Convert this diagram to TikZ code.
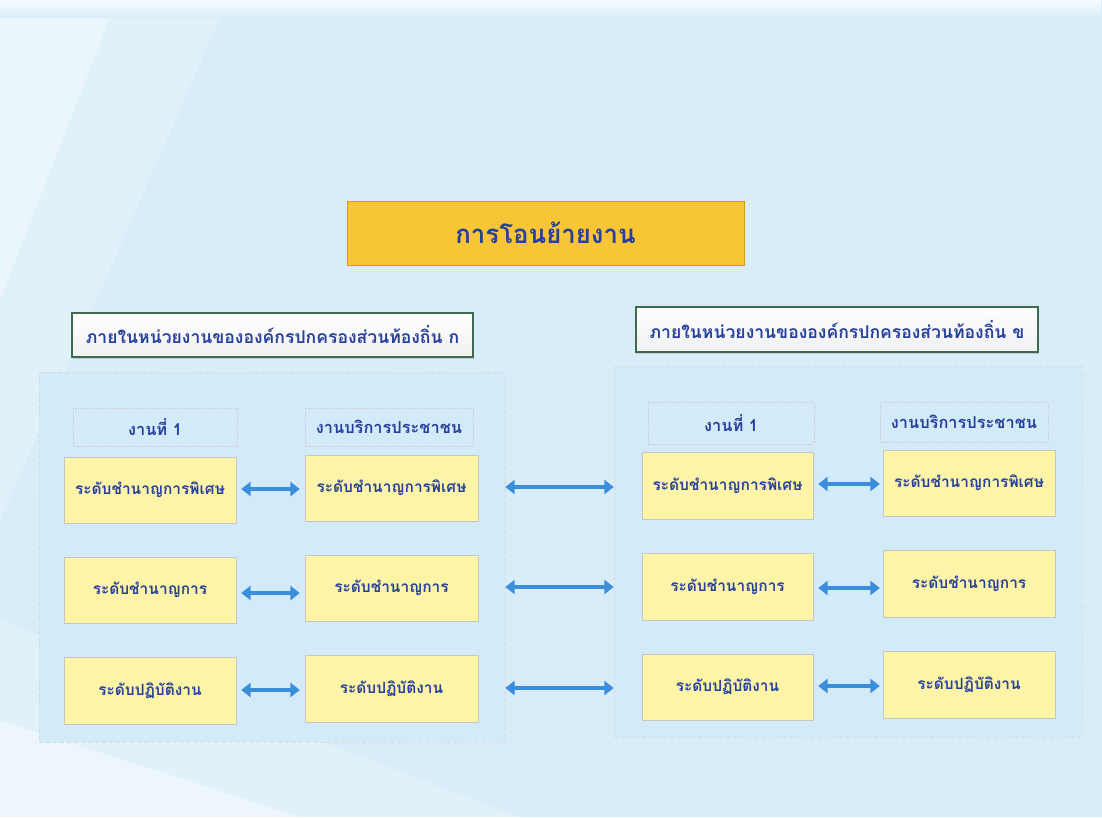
\documentclass[tikz,border=0pt]{standalone}
\usepackage{fontspec}
\newfontfamily\thaifont[Script=Thai]{Loma}
\usetikzlibrary{arrows.meta,fadings,shadows}
\definecolor{bgblue}{HTML}{D8EDF9}
\definecolor{panelblue}{HTML}{D3EAF8}
\definecolor{txtblue}{HTML}{26409C}
\definecolor{arrblue}{HTML}{3B8EDB}
\definecolor{titlefill}{HTML}{F8C536}
\definecolor{titledraw}{HTML}{D49A1E}
\definecolor{boxyellow}{HTML}{FDF4A8}
\definecolor{hdrgreen}{HTML}{3E6B4E}
\tikzset{
  x=0.03cm, y=-0.03cm,
  panel/.style={draw=white!70!gray, dashed, fill=panelblue, line width=0.5pt},
  colhdr/.style={draw=white!60!gray, densely dotted, line width=0.5pt, fill=none, font=\thaifont\bfseries\fontsize{14}{16}\selectfont, text=txtblue},
  levelbox/.style={draw=gray!45, fill=boxyellow, line width=0.4pt, drop shadow={opacity=0.25, shadow xshift=1pt, shadow yshift=-1pt}},
  boxtext/.style={font=\thaifont\bfseries\fontsize{13.2}{16}\selectfont, text=txtblue},
  hdrbox/.style={draw=hdrgreen, line width=1.2pt, top color=white, bottom color=green!4!gray!12, drop shadow={opacity=0.3, shadow xshift=1pt, shadow yshift=-1.5pt}},
  twoway/.style={arrblue, line width=3.6pt, {Triangle[width=12pt,length=8pt]}-{Triangle[width=12pt,length=8pt]}},
}
\begin{document}
\begin{tikzpicture}
\useasboundingbox (0,0) rectangle (1102,817);
% background
\fill[bgblue] (0,0) rectangle (1102,817);
\fill[white, path fading=south, opacity=0.8] (0,0) rectangle (1102,18);
\fill[white, opacity=0.5] (0,18) -- (110,18) -- (0,300) -- cycle;
\fill[white, opacity=0.25] (0,300) -- (110,18) -- (220,18) -- (0,520) -- cycle;
\fill[white, opacity=0.55] (0,817) -- (0,720) -- (300,817) -- cycle;
\fill[white, opacity=0.25] (300,817) -- (0,720) -- (0,620) -- (520,817) -- cycle;
% title
\node[draw=titledraw, fill=titlefill, line width=0.8pt, minimum width=397*0.03cm, minimum height=64*0.03cm, font=\thaifont\bfseries\fontsize{22}{26}\selectfont, text=txtblue] (title) at (545.5,233) {การโอนย้ายงาน};
% headers
\node[hdrbox, minimum width=401*0.03cm, minimum height=44*0.03cm, font=\thaifont\bfseries\fontsize{15}{18}\selectfont, text=txtblue] (hA) at (272.5,335) {ภายในหน่วยงานขององค์กรปกครองส่วนท้องถิ่น ก};
\node[hdrbox, minimum width=402*0.03cm, minimum height=45*0.03cm, font=\thaifont\bfseries\fontsize{15}{18}\selectfont, text=txtblue] (hB) at (837,329.5) {ภายในหน่วยงานขององค์กรปกครองส่วนท้องถิ่น ข};
% panels
\node[panel, minimum width=466*0.03cm, minimum height=370*0.03cm] (pA) at (272,557) {};
\node[panel, minimum width=468*0.03cm, minimum height=371*0.03cm] (pB) at (848,551.5) {};
% column headers A
\node[colhdr, minimum width=164*0.03cm, minimum height=38*0.03cm] (cA1) at (155,427) {งานที่ 1};
\node[colhdr, minimum width=168*0.03cm, minimum height=38*0.03cm] (cA2) at (389,427) {งานบริการประชาชน};
% column headers B
\node[colhdr, minimum width=166*0.03cm, minimum height=42*0.03cm] (cB1) at (731,423) {งานที่ 1};
\node[colhdr, minimum width=168*0.03cm, minimum height=40*0.03cm] (cB2) at (964,422) {งานบริการประชาชน};
% level boxes A
\node[levelbox, boxtext, minimum width=172*0.03cm, minimum height=66*0.03cm] (a11) at (150,490) {ระดับชำนาญการพิเศษ};
\node[levelbox, boxtext, minimum width=172*0.03cm, minimum height=66*0.03cm] (a12) at (150,590) {ระดับชำนาญการ};
\node[levelbox, boxtext, minimum width=172*0.03cm, minimum height=67*0.03cm] (a13) at (150,690.5) {ระดับปฏิบัติงาน};
\node[levelbox, boxtext, minimum width=173*0.03cm, minimum height=66*0.03cm] (a21) at (391.5,488) {ระดับชำนาญการพิเศษ};
\node[levelbox, boxtext, minimum width=173*0.03cm, minimum height=66*0.03cm] (a22) at (391.5,588) {ระดับชำนาญการ};
\node[levelbox, boxtext, minimum width=173*0.03cm, minimum height=67*0.03cm] (a23) at (391.5,688.5) {ระดับปฏิบัติงาน};
% level boxes B
\node[levelbox, boxtext, minimum width=171*0.03cm, minimum height=67*0.03cm] (b11) at (727.5,485.5) {ระดับชำนาญการพิเศษ};
\node[levelbox, boxtext, minimum width=171*0.03cm, minimum height=67*0.03cm] (b12) at (727.5,586.5) {ระดับชำนาญการ};
\node[levelbox, boxtext, minimum width=171*0.03cm, minimum height=66*0.03cm] (b13) at (727.5,687) {ระดับปฏิบัติงาน};
\node[levelbox, boxtext, minimum width=172*0.03cm, minimum height=66*0.03cm] (b21) at (969,483) {ระดับชำนาญการพิเศษ};
\node[levelbox, boxtext, minimum width=172*0.03cm, minimum height=67*0.03cm] (b22) at (969,583.5) {ระดับชำนาญการ};
\node[levelbox, boxtext, minimum width=172*0.03cm, minimum height=67*0.03cm] (b23) at (969,684.5) {ระดับปฏิบัติงาน};
% arrows within A
\draw[twoway, shorten <=5*0.03cm, shorten >=5*0.03cm] (a11.east |- 0,489) -- (a21.west |- 0,489);
\draw[twoway, shorten <=5*0.03cm, shorten >=5*0.03cm] (a12.east |- 0,593) -- (a22.west |- 0,593);
\draw[twoway, shorten <=5*0.03cm, shorten >=5*0.03cm] (a13.east |- 0,690) -- (a23.west |- 0,690);
% arrows between panels
\draw[twoway] (pA.east |- 0,487) -- (pB.west |- 0,487);
\draw[twoway] (pA.east |- 0,587) -- (pB.west |- 0,587);
\draw[twoway] (pA.east |- 0,688) -- (pB.west |- 0,688);
% arrows within B
\draw[twoway, shorten <=5*0.03cm, shorten >=3*0.03cm] (b11.east |- 0,484) -- (b21.west |- 0,484);
\draw[twoway, shorten <=5*0.03cm, shorten >=3*0.03cm] (b12.east |- 0,588) -- (b22.west |- 0,588);
\draw[twoway, shorten <=5*0.03cm, shorten >=3*0.03cm] (b13.east |- 0,686) -- (b23.west |- 0,686);
\end{tikzpicture}
\end{document}
